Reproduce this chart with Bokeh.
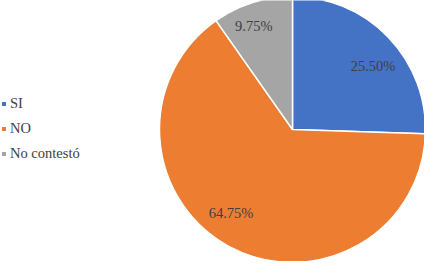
import math
from bokeh.plotting import figure
from bokeh.models import ColumnDataSource, Range1d, Legend, LegendItem
from bokeh.core.properties import value
from bokeh.embed import file_html
from bokeh.resources import INLINE

categories = ["SI", "NO", "No contestó"]
percentages = [25.50, 64.75, 9.75]
labels = ["25.50%", "64.75%", "9.75%"]
colors = ["#4472C4", "#ED7D31", "#A5A5A5"]

# style: label distance from center (fraction of radius) and angular nudge (deg)
label_rfrac = [0.77, 0.78, 0.83]
label_dang = [-6.0, -8.0, 3.0]

W, H = 424, 261
cx, cy, R = 300, 140, 133

starts, ends, lx, ly = [], [], [], []
a = math.pi / 2
for pct, rf, da in zip(percentages, label_rfrac, label_dang):
    sweep = pct / 100 * 2 * math.pi
    starts.append(a)
    ends.append(a - sweep)
    mid = a - sweep / 2 + math.radians(da)
    lx.append(cx + rf * R * math.cos(mid))
    ly.append(cy + rf * R * math.sin(mid))
    a -= sweep

src = ColumnDataSource(dict(cat=categories, start=starts, end=ends, color=colors,
                            lx=lx, ly=ly, label=labels))

p = figure(width=W, height=H, output_backend="svg", toolbar_location=None,
           x_range=Range1d(8, 8 + W), y_range=Range1d(277 - 8 - H, 277 - 8),
           min_border=0, outline_line_color=None)
p.axis.visible = False
p.grid.visible = False
p.background_fill_color = "white"
p.border_fill_color = "white"

renderers = []
for i in range(len(categories)):
    r = p.wedge(x=cx, y=cy, radius=R, start_angle=starts[i], end_angle=ends[i],
                direction="clock", fill_color=colors[i], line_color="white",
                line_width=1.5)
    renderers.append(r)

p.text(x="lx", y="ly", text="label", source=src, text_align="center",
       text_baseline="middle", text_font=value("Liberation Serif"),
       text_font_size="14.5px", text_color="#404040")

items = [LegendItem(label=c, renderers=[r]) for c, r in zip(categories, renderers)]
legend = Legend(items=items, location=(0, 98), orientation="vertical",
                glyph_width=7, glyph_height=7, label_standoff=3, spacing=5,
                padding=0, margin=0, border_line_color=None,
                background_fill_alpha=0, label_text_font="Liberation Serif",
                label_text_font_size="14.5px", label_text_color="#404040",
                label_height=20)
p.add_layout(legend, "center")

open("out.html", "w").write(file_html(p, INLINE))
